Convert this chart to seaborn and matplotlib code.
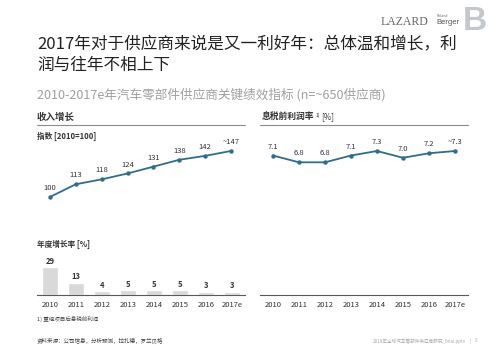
import matplotlib
matplotlib.use("Agg")
import matplotlib.pyplot as plt
import seaborn as sns
import pandas as pd
import numpy as np

years = ["2010", "2011", "2012", "2013", "2014", "2015", "2016", "2017e"]
revenue_index = [100, 113, 118, 124, 131, 138, 142, 147]
revenue_labels = ["100", "113", "118", "124", "131", "138", "142", "~147"]
growth_rate = [29, 13, 4, 5, 5, 5, 3, 3]
ebit_margin = [7.1, 6.8, 6.8, 7.1, 7.3, 7.0, 7.2, 7.3]
ebit_labels = ["7.1", "6.8", "6.8", "7.1", "7.3", "7.0", "7.2", "~7.3"]

sns.set_theme(style="white")
plt.rcParams['font.family'] = ['Noto Sans CJK SC', 'DejaVu Sans']

W, H = 500, 346
fig = plt.figure(figsize=(W / 100, H / 100), dpi=100)
fig.patch.set_facecolor("white")
renderer = fig.canvas.get_renderer()


def box(x0, y0, x1, y1):
    return [x0 / W, 1 - y1 / H, (x1 - x0) / W, (y1 - y0) / H]


def ftext(x, y, s, **kw):
    return fig.text(x / W, 1 - y / H, s, **kw)


def right_edge(t):
    bb = t.get_window_extent(renderer=renderer)
    return bb.x1


LINE = "#2f6d8c"
TXT = "#333333"
idx = np.arange(len(years))
df = pd.DataFrame({"year": years, "i": idx, "rev": revenue_index,
                   "growth": growth_rate, "ebit": ebit_margin})

# Titles
ftext(37, 45, "2017年对于供应商来说是又一利好年：总体温和增长，利", fontsize=12, color="#222222", va="center")
ftext(37, 65, "润与往年不相上下", fontsize=12, color="#222222", va="center")
ftext(37, 95, "2010-2017e年汽车零部件供应商关键绩效指标 (n=~650供应商)", fontsize=9.1, color="#a0a0a0", va="center")

# Logo
ftext(428, 22, "LAZARD", fontsize=8.5, color="#666666", ha="right", va="center", family="Liberation Serif")
ftext(437, 16, "Roland", fontsize=2.5, color="#666666", ha="left", va="center")
ftext(436, 23, "Berger", fontsize=5.5, color="#555555", ha="left", va="center", family="Liberation Sans")
ftext(475, 22, "B", fontsize=24, color="#c4c8cc", ha="center", va="center", family="Liberation Sans", fontweight="bold")

# Section headers
ftext(37, 117, "收入增长", fontsize=6.8, color=TXT, fontweight="bold", va="center")
t_h = ftext(262, 117, "息税前利润率", fontsize=6.3, color=TXT, fontweight="bold", va="center")
x_end = right_edge(t_h)
t_s = ftext(x_end + 1, 115.5, "1)", fontsize=3.5, color=TXT, va="center")
t_s.set_x((x_end + 0.8) / W)
x_end2 = right_edge(t_s)
t_p = ftext(0, 117, "[%]", fontsize=5.8, color=TXT, va="center")
t_p.set_x((x_end2 + 1.5) / W)
fig.add_artist(plt.Line2D([37 / W, 245 / W], [1 - 125 / H] * 2, color="#8c8c8c", lw=0.8))
fig.add_artist(plt.Line2D([260 / W, 468 / W], [1 - 124.5 / H] * 2, color="#8c8c8c", lw=0.8))
ftext(37, 136, "指数 [2010=100]", fontsize=5.5, color=TXT, fontweight="bold", va="center")
ftext(37, 244, "年度增长率 [%]", fontsize=5.5, color=TXT, fontweight="bold", va="center")

# Revenue index line
ax1 = fig.add_axes(box(37, 140, 244, 210))
sns.lineplot(data=df, x="i", y="rev", ax=ax1, color=LINE, lw=1.3, marker="o",
             markersize=3.2, markeredgewidth=0)
ax1.set_xlim(-0.5, 7.5)
ax1.set_ylim(86.7, 158.2)
for i, (v, s) in enumerate(zip(revenue_index, revenue_labels)):
    ax1.annotate(s, (i, v), xytext=(0, 3.5), textcoords="offset points",
                 ha="center", va="bottom", fontsize=5.5, color=TXT)
ax1.axis("off")

# EBIT margin line
ax2 = fig.add_axes(box(260, 140, 468, 210))
sns.lineplot(data=df, x="i", y="ebit", ax=ax2, color=LINE, lw=1.3, marker="o",
             markersize=3.2, markeredgewidth=0)
ax2.set_xlim(-0.5, 7.5)
ax2.set_ylim(4.689, 7.787)
for i, (v, s) in enumerate(zip(ebit_margin, ebit_labels)):
    ax2.annotate(s, (i, v), xytext=(0, 3.5), textcoords="offset points",
                 ha="center", va="bottom", fontsize=5.5, color=TXT)
ax2.axis("off")

# Growth bars
ax3 = fig.add_axes(box(37, 250, 245, 295))
sns.barplot(data=df, x="year", y="growth", ax=ax3, color="#d9d9d9", width=0.58,
            saturation=1)
ax3.set_xlim(-0.5, 7.5)
ax3.set_ylim(0, 47.4)
for i, v in enumerate(growth_rate):
    ax3.annotate(str(v), (i, v), xytext=(0, 1.2), textcoords="offset points",
                 ha="center", va="bottom", fontsize=5.5, color=TXT, fontweight="bold")
for sp in ["top", "left", "right"]:
    ax3.spines[sp].set_visible(False)
ax3.spines["bottom"].set_color("#595959")
ax3.spines["bottom"].set_linewidth(0.8)
ax3.set_yticks([])
ax3.set_xlabel("")
ax3.set_ylabel("")
ax3.tick_params(axis="x", length=0, pad=4, labelsize=5.5, labelcolor=TXT)

# Right bottom axis (years only)
ax4 = fig.add_axes(box(260, 250, 468, 295))
ax4.set_xlim(-0.5, 7.5)
ax4.set_ylim(0, 1)
ax4.set_xticks(idx)
ax4.set_xticklabels(years)
for sp in ["top", "left", "right"]:
    ax4.spines[sp].set_visible(False)
ax4.spines["bottom"].set_color("#595959")
ax4.spines["bottom"].set_linewidth(0.8)
ax4.set_yticks([])
ax4.set_facecolor("none")
ax4.tick_params(axis="x", length=0, pad=4, labelsize=5.5, labelcolor=TXT)
ax1.set_xlabel(""); ax1.set_ylabel("")
ax2.set_xlabel(""); ax2.set_ylabel("")

# Footnotes
ftext(37, 319, "1) 重组项目后息税前利润", fontsize=4, color="#444444", va="center")
ftext(37, 341, "资料来源：公司信息，分析预测，拉扎德，罗兰贝格", fontsize=4, color="#444444", va="center")
ftext(466, 341, "2018年全球汽车零部件供应商研究_final.pptx", fontsize=3.3, color="#aaaaaa", ha="right", va="center")
ftext(470, 341, "|", fontsize=4, color="#aaaaaa", ha="center", va="center")
ftext(476, 341, "9", fontsize=3.3, color="#aaaaaa", ha="center", va="center")

fig.savefig("out.png", dpi=100, facecolor="white")
